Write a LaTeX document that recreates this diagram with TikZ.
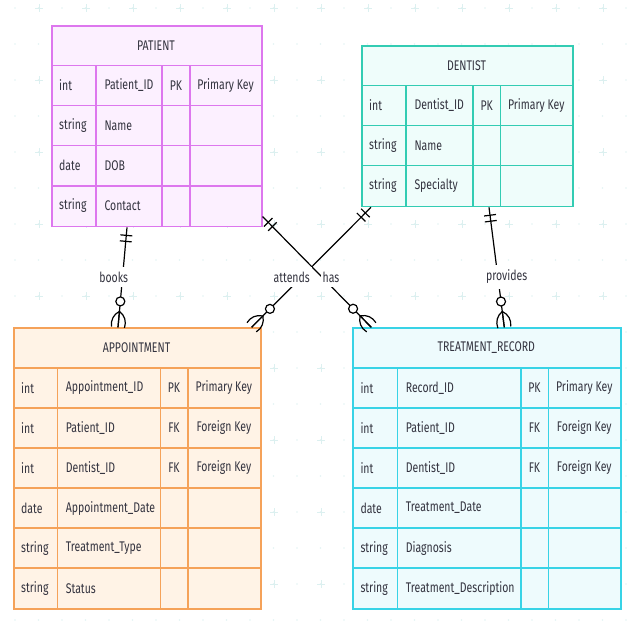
\documentclass[tikz,border=0pt]{standalone}
\usepackage{fontspec}
\usepackage{tikz}
\usetikzlibrary{calc}
\newfontfamily\erfont[FakeStretch=0.75]{Fira Sans}

\definecolor{ink}{HTML}{33333F}
\definecolor{gridcol}{HTML}{DCF0F0}
\definecolor{pcol}{HTML}{DD77EE}
\definecolor{pfill}{HTML}{FCF0FF}
\definecolor{dcol}{HTML}{33CCB3}
\definecolor{dfill}{HTML}{EFFDFB}
\definecolor{acol}{HTML}{F5A259}
\definecolor{afill}{HTML}{FFF3E6}
\definecolor{tcol}{HTML}{38D3E6}
\definecolor{tfill}{HTML}{EEFBFD}

\tikzset{
    txt/.style={font=\erfont\fontsize{14}{16}\selectfont, text=ink, inner sep=0pt},
    lbl/.style={txt, fill=white, inner xsep=2pt, inner ysep=5pt},
    tbl/.style={line width=1.6pt, anchor=north west, inner sep=0pt},
    rel/.style={line width=1.2pt, black},
}

\begin{document}
\begin{tikzpicture}[x=1pt, y=-1pt]
    \useasboundingbox (0,0) rectangle (640,640);
    \fill[white] (0,0) rectangle (640,640);

    % background grid
    \foreach \y in {8,44,...,620}
        \foreach \x in {15,38.5,...,630}
            \fill[gridcol!80] (\x,\y) circle (0.8pt);
    \foreach \y in {8,80,...,620}
        \foreach \x in {39,86,...,630}
            \draw[gridcol, line width=0.9pt] (\x-4,\y) -- (\x+4,\y) (\x,\y-4) -- (\x,\y+4);

    % PATIENT
    \node[tbl, draw=pcol, fill=pfill, minimum width=210pt, minimum height=200.8pt] (patient) at (51,25) {};
    \node[txt] (patient-title) at (156,45.2) {PATIENT};
    \foreach \y in {65.4,105.5,145.6,185.7}
        \draw[pcol, line width=1.6pt] (51,\y) -- (261,\y);
    \foreach \x in {96,162,190}
        \draw[pcol, line width=1.6pt] (\x,65.4) -- (\x,225.8);
    \foreach \ty/\nm/\ky/\cm [count=\i] in {int/Patient\_ID/PK/Primary Key, string/Name/{}/{}, date/DOB/{}/{}, string/Contact/{}/{}} {
        \node[txt, anchor=west] (patient-t\i) at (59,45.35+40.1*\i) {\ty};
        \node[txt, anchor=west] (patient-n\i) at (104.3,45.35+40.1*\i) {\nm};
        \node[txt] (patient-k\i) at (176,45.35+40.1*\i) {\ky};
        \node[txt] (patient-c\i) at (225.5,45.35+40.1*\i) {\cm};
    }

    % DENTIST
    \node[tbl, draw=dcol, fill=dfill, minimum width=211pt, minimum height=160.7pt] (dentist) at (361,45) {};
    \node[txt] (dentist-title) at (466.5,65.2) {DENTIST};
    \foreach \y in {85.4,125.5,165.6}
        \draw[dcol, line width=1.6pt] (361,\y) -- (572,\y);
    \foreach \x in {406,473,500.5}
        \draw[dcol, line width=1.6pt] (\x,85.4) -- (\x,205.7);
    \foreach \ty/\nm/\ky/\cm [count=\i] in {int/Dentist\_ID/PK/Primary Key, string/Name/{}/{}, string/Specialty/{}/{}} {
        \node[txt, anchor=west] (dentist-t\i) at (369,65.35+40.1*\i) {\ty};
        \node[txt, anchor=west] (dentist-n\i) at (414.3,65.35+40.1*\i) {\nm};
        \node[txt] (dentist-k\i) at (486.75,65.35+40.1*\i) {\ky};
        \node[txt] (dentist-c\i) at (536.25,65.35+40.1*\i) {\cm};
    }

    % APPOINTMENT
    \node[tbl, draw=acol, fill=afill, minimum width=247pt, minimum height=281pt] (appointment) at (13,327.3) {};
    \node[txt] (appointment-title) at (136.5,347.5) {APPOINTMENT};
    \foreach \y in {367.7,407.8,447.9,488,528.1,568.2}
        \draw[acol, line width=1.6pt] (13,\y) -- (260,\y);
    \foreach \x in {57.3,160.3,187.7}
        \draw[acol, line width=1.6pt] (\x,367.7) -- (\x,608.3);
    \foreach \ty/\nm/\ky/\cm [count=\i] in {int/Appointment\_ID/PK/Primary Key, int/Patient\_ID/FK/Foreign Key, int/Dentist\_ID/FK/Foreign Key, date/Appointment\_Date/{}/{}, string/Treatment\_Type/{}/{}, string/Status/{}/{}} {
        \node[txt, anchor=west] (appointment-t\i) at (21,347.65+40.1*\i) {\ty};
        \node[txt, anchor=west] (appointment-n\i) at (65.6,347.65+40.1*\i) {\nm};
        \node[txt] (appointment-k\i) at (174,347.65+40.1*\i) {\ky};
        \node[txt] (appointment-c\i) at (223.85,347.65+40.1*\i) {\cm};
    }

    % TREATMENT_RECORD
    \node[tbl, draw=tcol, fill=tfill, minimum width=268pt, minimum height=281pt] (treatment) at (352.3,327.3) {};
    \node[txt] (treatment-title) at (486.3,347.5) {TREATMENT\_RECORD};
    \foreach \y in {367.7,407.8,447.9,488,528.1,568.2}
        \draw[tcol, line width=1.6pt] (352.3,\y) -- (620.3,\y);
    \foreach \x in {397.3,520.7,548.3}
        \draw[tcol, line width=1.6pt] (\x,367.7) -- (\x,608.3);
    \foreach \ty/\nm/\ky/\cm [count=\i] in {int/Record\_ID/PK/Primary Key, int/Patient\_ID/FK/Foreign Key, int/Dentist\_ID/FK/Foreign Key, date/Treatment\_Date/{}/{}, string/Diagnosis/{}/{}, string/Treatment\_Description/{}/{}} {
        \node[txt, anchor=west] (treatment-t\i) at (360.3,347.65+40.1*\i) {\ty};
        \node[txt, anchor=west] (treatment-n\i) at (405.6,347.65+40.1*\i) {\nm};
        \node[txt] (treatment-k\i) at (534.5,347.65+40.1*\i) {\ky};
        \node[txt] (treatment-c\i) at (584.3,347.65+40.1*\i) {\cm};
    }

    % relationship ends
    \coordinate (books-a) at ($(patient.south west)+(76,0)$);
    \coordinate (books-b) at ($(appointment.north west)+(105,0)$);
    \coordinate (has-a) at ($(patient.south east)+(0,-10.8)$);
    \coordinate (has-b) at ($(treatment.north west)+(19,0)$);
    \coordinate (attends-a) at ($(dentist.south west)+(10,0)$);
    \coordinate (attends-b) at ($(appointment.north east)+(-10,0)$);
    \coordinate (provides-a) at ($(dentist.south west)+(128,0)$);
    \coordinate (provides-b) at ($(treatment.north west)+(152,0)$);

    \foreach \src/\dst in {books-a/books-b, has-a/has-b, attends-a/attends-b, provides-a/provides-b} {
        \draw[rel] (\src) -- (\dst);
        % exactly one
        \coordinate (p1) at ($(\src)!8pt!(\dst)$);
        \coordinate (p2) at ($(\src)!14pt!(\dst)$);
        \draw[rel] ($(p1)!6pt!90:(\dst)$) -- ($(p1)!6pt!-90:(\dst)$);
        \draw[rel] ($(p2)!6pt!90:(\dst)$) -- ($(p2)!6pt!-90:(\dst)$);
        % zero or many
        \coordinate (q) at ($(\dst)!26pt!(\src)$);
        \coordinate (f) at ($(\dst)!16pt!(\src)$);
        \draw[rel, fill=white] (q) circle (4.5pt);
        \draw[rel] (f) to[bend right=35] ($(\dst)!6.5pt!90:(\src)$);
        \draw[rel] (f) -- (\dst);
        \draw[rel] (f) to[bend left=35] ($(\dst)!6.5pt!-90:(\src)$);
    }

    \node[lbl] (books) at (113.7,277) {books};
    \node[lbl] (attends) at (291.7,277) {attends};
    \node[lbl] (has) at (331,277) {has};
    \node[lbl] (provides) at (506.7,277) {provides};
\end{tikzpicture}
\end{document}
